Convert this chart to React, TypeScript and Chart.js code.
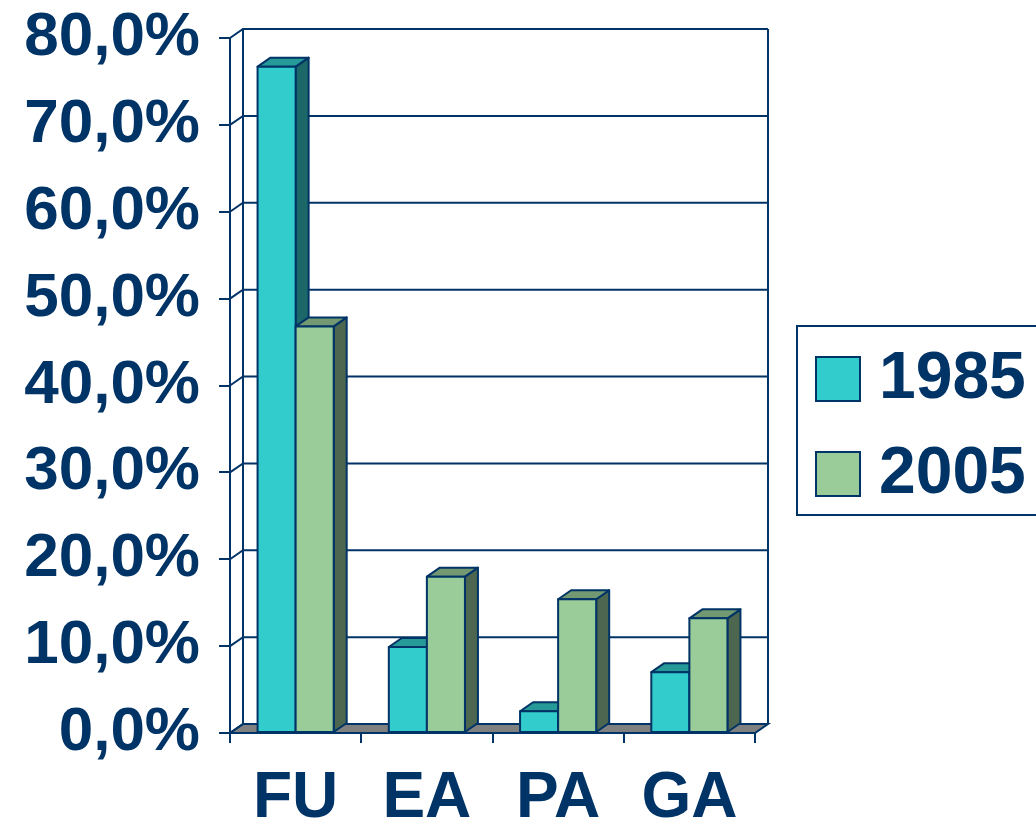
import React, { useEffect, useRef } from "react";
import { Chart, registerables } from "chart.js";

Chart.register(...registerables);

const categories = ["FU", "EA", "PA", "GA"];
const series1985 = [76.7, 9.9, 2.5, 7.0];
const series2005 = [46.8, 18.0, 15.4, 13.2];
const seriesLabels = ["1985", "2005"];

const NAVY = "#003366";
const FONT = "'Liberation Sans', Arial, Helvetica, sans-serif";
const DX = 13;
const DY = 9;

const faceColors = [
  { front: "#33CCCC", top: "#269999", side: "#1C6868" },
  { front: "#99CC99", top: "#739973", side: "#4D664F" },
];

const wallPlugin = {
  id: "wall3d",
  beforeDatasetsDraw(chart: any) {
    const { ctx, chartArea: a, scales } = chart;
    const y = scales.y;
    ctx.save();
    ctx.strokeStyle = NAVY;
    ctx.lineWidth = 2;
    // floor
    ctx.beginPath();
    ctx.moveTo(a.left, a.bottom);
    ctx.lineTo(a.right, a.bottom);
    ctx.lineTo(a.right + DX, a.bottom - DY);
    ctx.lineTo(a.left + DX, a.bottom - DY);
    ctx.closePath();
    ctx.fillStyle = "#808080";
    ctx.fill();
    ctx.stroke();
    // gridlines on back wall + side diagonals
    y.ticks.forEach((t: any) => {
      const yy = y.getPixelForValue(t.value);
      ctx.beginPath();
      ctx.moveTo(a.left, yy);
      ctx.lineTo(a.left + DX, yy - DY);
      ctx.lineTo(a.right + DX, yy - DY);
      ctx.stroke();
    });
    // back wall verticals
    ctx.beginPath();
    ctx.moveTo(a.left + DX, a.top - DY);
    ctx.lineTo(a.left + DX, a.bottom - DY);
    ctx.moveTo(a.right + DX, a.top - DY);
    ctx.lineTo(a.right + DX, a.bottom - DY);
    ctx.stroke();
    ctx.restore();
  },
  afterDatasetsDraw(chart: any) {
    const { ctx } = chart;
    const items: any[] = [];
    chart.data.datasets.forEach((_: any, di: number) => {
      const meta = chart.getDatasetMeta(di);
      meta.data.forEach((bar: any) => {
        items.push({ x: bar.x, y: bar.y, w: bar.width, base: bar.base, di });
      });
    });
    items.sort((p, q) => p.x - q.x);
    ctx.save();
    ctx.strokeStyle = NAVY;
    ctx.lineWidth = 2;
    ctx.lineJoin = "round";
    items.forEach((it) => {
      const c = faceColors[it.di];
      const l = it.x - it.w / 2;
      const r = it.x + it.w / 2;
      const t = it.y;
      const b = it.base;
      // side
      ctx.beginPath();
      ctx.moveTo(r, t);
      ctx.lineTo(r + DX, t - DY);
      ctx.lineTo(r + DX, b - DY);
      ctx.lineTo(r, b);
      ctx.closePath();
      ctx.fillStyle = c.side;
      ctx.fill();
      ctx.stroke();
      // top
      ctx.beginPath();
      ctx.moveTo(l, t);
      ctx.lineTo(l + DX, t - DY);
      ctx.lineTo(r + DX, t - DY);
      ctx.lineTo(r, t);
      ctx.closePath();
      ctx.fillStyle = c.top;
      ctx.fill();
      ctx.stroke();
      // front
      ctx.beginPath();
      ctx.rect(l, t, r - l, b - t);
      ctx.fillStyle = c.front;
      ctx.fill();
      ctx.stroke();
    });
    ctx.restore();
  },
  afterDraw(chart: any) {
    const { ctx } = chart;
    ctx.save();
    ctx.strokeStyle = NAVY;
    ctx.lineWidth = 2;
    ctx.strokeRect(797, 326, 260, 189);
    const rows = [357, 452];
    chart.data.datasets.forEach((ds: any, i: number) => {
      const top = rows[i];
      ctx.fillStyle = ds.backgroundColor;
      ctx.fillRect(816, top, 44, 44);
      ctx.strokeRect(816, top, 44, 44);
      ctx.fillStyle = NAVY;
      ctx.font = `bold 66px ${FONT}`;
      ctx.textBaseline = "middle";
      ctx.textAlign = "left";
      ctx.fillText(ds.label, 879, top + 23);
    });
    ctx.restore();
  },
};

export default function App() {
  const ref = useRef<HTMLCanvasElement>(null);
  useEffect(() => {
    if (!ref.current) return;
    const chart = new Chart(ref.current, {
      type: "bar",
      data: {
        labels: categories,
        datasets: [
          {
            label: seriesLabels[0],
            data: series1985,
            backgroundColor: faceColors[0].front,
            borderColor: NAVY,
            borderWidth: 2,
          },
          {
            label: seriesLabels[1],
            data: series2005,
            backgroundColor: faceColors[1].front,
            borderColor: NAVY,
            borderWidth: 2,
          },
        ],
      },
      options: {
        animation: false,
        responsive: false,
        devicePixelRatio: 1,
        layout: { padding: { top: 38, right: 281, left: 0, bottom: 0 } },
        plugins: { legend: { display: false }, tooltip: { enabled: false } },
        datasets: { bar: { barPercentage: 1, categoryPercentage: 0.58 } },
        scales: {
          y: {
            min: 0,
            max: 80,
            ticks: {
              stepSize: 10,
              padding: 19,
              color: NAVY,
              font: { family: FONT, size: 62, weight: "bold" },
              callback: (v: any) => Number(v).toFixed(1).replace(".", ",") + "%",
            },
            grid: { drawOnChartArea: false, drawTicks: true, tickLength: 11, color: NAVY, lineWidth: 2 },
            border: { display: true, color: NAVY, width: 2 },
            afterFit: (s: any) => {
              s.width = 230;
              s.paddingTop = 0;
              s.paddingBottom = 0;
            },
          },
          x: {
            ticks: {
              padding: 18,
              color: NAVY,
              maxRotation: 0,
              autoSkip: false,
              font: { family: FONT, size: 64, weight: "bold" },
            },
            grid: { drawOnChartArea: false, drawTicks: true, tickLength: 10, offset: true, color: NAVY, lineWidth: 2 },
            border: { display: true, color: NAVY, width: 2 },
            afterFit: (s: any) => {
              s.height = 94;
              s.paddingLeft = 0;
              s.paddingRight = 0;
            },
          },
        },
      },
      plugins: [wallPlugin],
    });
    return () => chart.destroy();
  }, []);
  return (
    <div style={{ position: "fixed", left: 0, top: 0, width: 1036, height: 827, background: "#fff" }}>
      <canvas ref={ref} width={1036} height={827} style={{ display: "block" }} />
    </div>
  );
}
